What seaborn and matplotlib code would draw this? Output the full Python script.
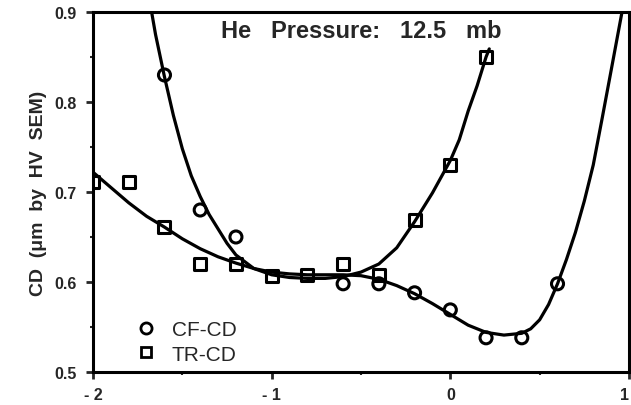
import numpy as np
import pandas as pd
import matplotlib
matplotlib.use("Agg")
import matplotlib.pyplot as plt
from matplotlib.lines import Line2D
from matplotlib.ticker import MultipleLocator, FixedLocator, FixedFormatter
import seaborn as sns

# ---- data ----
cf_x = [-1.6, -1.4, -1.2, -0.6, -0.4, -0.2, 0.0, 0.2, 0.4, 0.6]
cf_y = [0.83, 0.68, 0.65, 0.598, 0.598, 0.588, 0.569, 0.538, 0.538, 0.598]

tr_x = [-2.0, -1.8, -1.6, -1.4, -1.2, -1.0, -0.8, -0.6, -0.4, -0.2, 0.0, 0.2]
tr_y = [0.711, 0.711, 0.661, 0.62, 0.62, 0.607, 0.608, 0.62, 0.608, 0.669, 0.73, 0.85]

# fitted curves
curveA_x = [-1.672, -1.65, -1.6, -1.55, -1.5, -1.45, -1.4, -1.35, -1.3, -1.25, -1.2, -1.1,
            -1.0, -0.9, -0.8, -0.7, -0.6, -0.5, -0.4, -0.3, -0.2, -0.1, 0.0, 0.05, 0.1,
            0.15, 0.2, 0.218]
curveA_y = [0.90, 0.875, 0.828, 0.785, 0.748, 0.718, 0.695, 0.675, 0.659, 0.643, 0.630, 0.615,
            0.608, 0.605, 0.604, 0.604, 0.606, 0.611, 0.620, 0.638, 0.667, 0.699, 0.735, 0.758, 0.790,
            0.818, 0.850, 0.859]

curveB_x = [-2.0, -1.9, -1.8, -1.7, -1.6, -1.5, -1.4, -1.3, -1.2, -1.1, -1.0, -0.9, -0.8,
            -0.7, -0.6, -0.5, -0.4, -0.3, -0.2, -0.1, 0.0, 0.1, 0.2, 0.3, 0.4, 0.45, 0.5,
            0.55, 0.6, 0.65, 0.7, 0.75, 0.8, 0.85, 0.9, 0.961]
curveB_y = [0.722, 0.705, 0.688, 0.673, 0.661, 0.648, 0.637, 0.628, 0.621, 0.615, 0.611, 0.609, 0.608,
            0.608, 0.608, 0.607, 0.603, 0.596, 0.587, 0.576, 0.564, 0.552, 0.544, 0.541, 0.543, 0.548, 0.558,
            0.575, 0.598, 0.625, 0.655, 0.690, 0.730, 0.782, 0.835, 0.90]

y_ticks = [0.5, 0.6, 0.7, 0.8, 0.9]
y_tick_labels = ["0.5", "0.6", "0.7", "0.8", "0.9"]
x_ticks = [-2, -1, 0, 1]
x_tick_labels = ["- 2", "- 1", "0", "1"]

title_text = "He   Pressure:   12.5   mb"
y_label = "CD  (\u03bcm  by  HV  SEM)"
legend_labels = ["CF-CD", "TR-CD"]

# ---- plot ----
sns.set_style("ticks")
plt.rcParams['font.family'] = ['Liberation Sans', 'DejaVu Sans']

fig = plt.figure(figsize=(6.31, 4.06), dpi=100)
ax = fig.add_axes([0.1474, 0.0813, 0.8494, 0.8867])

dfA = pd.DataFrame({"x": curveA_x, "y": curveA_y})
dfB = pd.DataFrame({"x": curveB_x, "y": curveB_y})
sns.lineplot(data=dfA, x="x", y="y", sort=False, estimator=None, color="black", lw=2.3, ax=ax)
sns.lineplot(data=dfB, x="x", y="y", sort=False, estimator=None, color="black", lw=2.3, ax=ax)

df_cf = pd.DataFrame({"x": cf_x, "y": cf_y})
df_tr = pd.DataFrame({"x": tr_x, "y": tr_y})
sns.scatterplot(data=df_cf, x="x", y="y", marker="o", s=75, facecolor="none",
                edgecolor="black", linewidth=2.2, ax=ax, zorder=3)
sns.scatterplot(data=df_tr, x="x", y="y", marker="s", s=75, facecolor="none",
                edgecolor="black", linewidth=2.2, ax=ax, zorder=3)

ax.set_xlim(-2, 1)
ax.set_ylim(0.5, 0.9)
ax.xaxis.set_major_locator(FixedLocator(x_ticks))
ax.xaxis.set_major_formatter(FixedFormatter(x_tick_labels))
ax.xaxis.set_minor_locator(MultipleLocator(0.5))
ax.yaxis.set_major_locator(FixedLocator(y_ticks))
ax.yaxis.set_major_formatter(FixedFormatter(y_tick_labels))
ax.yaxis.set_minor_locator(MultipleLocator(0.05))

ax.tick_params(which="major", direction="out", length=5, width=2, labelsize=11.5)
ax.tick_params(axis="y", which="major", pad=7)
ax.tick_params(axis="x", which="major", pad=6)
ax.tick_params(which="minor", direction="out", length=2.5, width=1.5)
for lab in ax.get_xticklabels() + ax.get_yticklabels():
    lab.set_fontweight("bold")
ax.get_xticklabels()[-1].set_ha("right")
for s in ax.spines.values():
    s.set_visible(True)
    s.set_linewidth(2.2)
    s.set_color("black")

ax.set_xlabel("")
ax.set_ylabel(y_label, fontsize=14, fontweight="bold")
ax.yaxis.set_label_coords(-0.086, 0.5)

ax.text(0.5, 0.930, title_text, transform=ax.transAxes, ha="center", va="baseline",
        fontsize=17, fontweight="bold")

handles = [Line2D([], [], marker="o", ls="none", mfc="none", mec="black", mew=2.0, ms=8),
           Line2D([], [], marker="s", ls="none", mfc="none", mec="black", mew=2.0, ms=7.5)]
ax.legend(handles, legend_labels, loc="lower left", bbox_to_anchor=(0.065, 0.0),
          frameon=False, fontsize=15, handlelength=0.9, handletextpad=0.8, labelspacing=0.25,
          borderaxespad=0)

fig.savefig("out.png", dpi=100)
